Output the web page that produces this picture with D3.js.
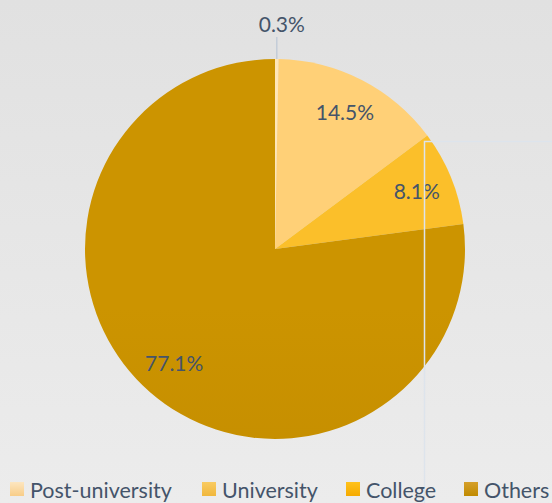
<!DOCTYPE html>
<html>
<head>
<meta charset="utf-8">
<script src="https://cdn.jsdelivr.net/npm/d3@7"></script>
<style>
  html, body { margin: 0; padding: 0; background: #e6e6e6; }
  svg { display: block; }
  text { font-family: Lato, "Open Sans", sans-serif; fill: #44546a; }
</style>
</head>
<body>
<script>
// Education level shares (percent)
const categories = ["Post-university", "University", "College", "Others"];
const values = [0.3, 14.5, 8.1, 77.1];
const labels = ["0.3%", "14.5%", "8.1%", "77.1%"];

const W = 552, H = 503;
const cx = 275, cy = 249, R = 190;

const svg = d3.select("body").append("svg").attr("width", W).attr("height", H);
const defs = svg.append("defs");

// Background wash
const bg = defs.append("linearGradient").attr("id", "bg")
  .attr("x1", 0).attr("y1", 0).attr("x2", 0).attr("y2", 1);
bg.append("stop").attr("offset", "0%").attr("stop-color", "#e1e1e1");
bg.append("stop").attr("offset", "100%").attr("stop-color", "#ececec");
svg.append("rect").attr("width", W).attr("height", H).attr("fill", "url(#bg)");

// Slice fills: top colour -> bottom colour
const fills = [
  ["#ffe6b8", "#fbd595"],
  ["#ffd077", "#e9bd5c"],
  ["#fbbf2a", "#f0ae00"],
  ["#cc9400", "#c28c00"]
];
const swatchFills = [
  ["#fde6c0", "#f8cd88"],
  ["#f9cb62", "#f0b73c"],
  ["#ffc21c", "#f5aa00"],
  ["#d59f2a", "#c08a00"]
];
fills.forEach((f, i) => {
  const g = defs.append("linearGradient").attr("id", "sl" + i)
    .attr("gradientUnits", "userSpaceOnUse")
    .attr("x1", 0).attr("y1", cy - R).attr("x2", 0).attr("y2", cy + R);
  g.append("stop").attr("offset", "0%").attr("stop-color", f[0]);
  g.append("stop").attr("offset", "45%").attr("stop-color", d3.interpolateRgb(f[0], f[1])(0.7));
  g.append("stop").attr("offset", "100%").attr("stop-color", f[1]);
});
swatchFills.forEach((f, i) => {
  const g = defs.append("linearGradient").attr("id", "sw" + i)
    .attr("x1", 0).attr("y1", 0).attr("x2", 0).attr("y2", 1);
  g.append("stop").attr("offset", "0%").attr("stop-color", f[0]);
  g.append("stop").attr("offset", "100%").attr("stop-color", f[1]);
});

const pie = d3.pie().sort(null).value(d => d);
const arcs = pie(values);
const arc = d3.arc().innerRadius(0).outerRadius(R);

const g = svg.append("g").attr("transform", `translate(${cx},${cy})`);
g.selectAll("path.slice").data(arcs).enter().append("path")
  .attr("class", "slice")
  .attr("d", arc)
  .attr("fill", (d, i) => `url(#sl${i})`);

// In-slice labels
const labelArc = d3.arc().innerRadius(153).outerRadius(153);
g.selectAll("text.lbl").data(arcs).enter()
  .filter((d, i) => i > 0)
  .append("text")
  .attr("class", "lbl")
  .attr("transform", d => `translate(${labelArc.centroid(d)})`)
  .attr("text-anchor", "middle")
  .attr("dy", "0.35em")
  .style("font-size", "21px")
  .text((d, i) => labels[i + 1]);

// Outside label for the thin slice, with leader line
const small = arcs[0];
const midA = (small.startAngle + small.endAngle) / 2;
const ex = Math.sin(midA) * R;
g.append("line")
  .attr("x1", ex).attr("y1", -R)
  .attr("x2", ex).attr("y2", -R - 22)
  .attr("stroke", "#c3ccd8").attr("stroke-width", 1.5);
g.append("text")
  .attr("x", ex + 5).attr("y", -R - 27)
  .attr("text-anchor", "middle")
  .style("font-size", "21px")
  .text(labels[0]);

// Guide line running from the College slice edge
svg.append("path")
  .attr("d", `M${W},141.5 H424.5 V${H}`)
  .attr("fill", "none")
  .attr("stroke", "#dde4ec").attr("stroke-width", 1.5);

// Legend
const legendX = [10, 202, 346, 464];
const lg = svg.append("g");
categories.forEach((c, i) => {
  lg.append("rect")
    .attr("x", legendX[i]).attr("y", 482)
    .attr("width", 14).attr("height", 14)
    .attr("fill", `url(#sw${i})`);
  lg.append("text")
    .attr("x", legendX[i] + 20).attr("y", 498)
    .style("font-size", "21.5px")
    .text(c);
});
</script>
</body>
</html>
